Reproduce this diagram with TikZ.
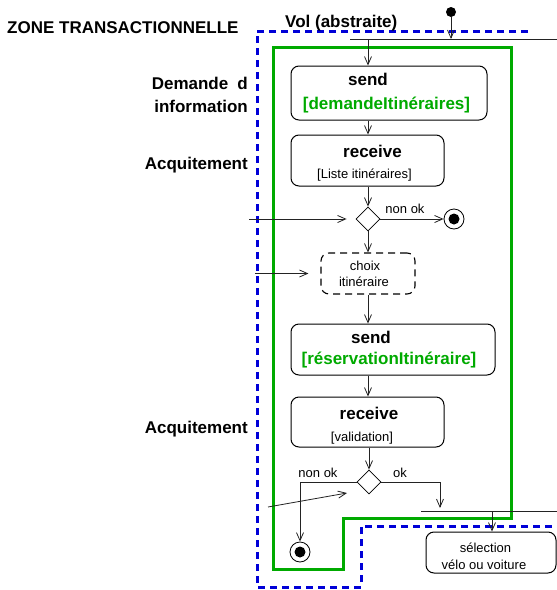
\documentclass[tikz,border=0pt]{standalone}
\usepackage{fontspec}
\setmainfont{Liberation Sans}
\usetikzlibrary{arrows.meta,shapes.geometric}
\definecolor{umlgreen}{RGB}{0,170,0}
\definecolor{umlblue}{RGB}{0,0,215}
\definecolor{ink}{RGB}{35,35,35}
\tikzset{
  big/.style={font=\fontsize{17}{20}\selectfont\bfseries, inner sep=0pt},
  small/.style={font=\fontsize{13}{15}\selectfont, inner sep=0pt},
  greentxt/.style={font=\fontsize{17}{20}\selectfont\bfseries, inner sep=0pt, text=umlgreen},
  actbox/.style={draw=black, line width=1pt, rounded corners=8pt, inner sep=0pt},
  choicebox/.style={draw=black, line width=1.1pt, rounded corners=8pt, dash pattern=on 7pt off 5pt, inner sep=0pt},
  decision/.style={diamond, draw=black, line width=0.8pt, inner sep=0pt, minimum width=24pt, minimum height=24pt, aspect=1},
  finalnode/.style={circle, draw=black, line width=0.8pt, minimum size=20pt, inner sep=0pt},
  startnode/.style={circle, fill=black, minimum size=10pt, inner sep=0pt},
  arr/.style={draw=ink, line width=0.8pt, -{Straight Barb[length=8pt,width=7pt]}},
  bar/.style={draw=ink, line width=0.8pt},
  swim/.style={draw=umlblue, line width=3pt, dash pattern=on 7pt off 5pt},
  part/.style={draw=umlgreen, line width=3pt},
}
\begin{document}
\begin{tikzpicture}[x=1pt,y=-1pt]
\useasboundingbox (0,0) rectangle (557,590);

% partitions
\draw[part] (273,47) -- (511,47) -- (511,518) -- (343,518) -- (343,569) -- (273,569) -- cycle;
\draw[swim] (528,31) -- (257,31) -- (257,587) -- (361,587) -- (361,526) -- (557,526);

% labels
\node[big, anchor=base west] (zone) at (7,33) {ZONE TRANSACTIONNELLE};
\node[big, anchor=base west] (vol) at (285,27) {Vol (abstraite)};
\node[big, anchor=base east] (dem1) at (248,89) {\makebox[96pt]{Demande\hfill d}};
\node[big, anchor=base east] (dem2) at (248,112) {information};
\node[big, anchor=base east] (acq1) at (248,169) {Acquitement};
\node[big, anchor=base east] (acq2) at (248,433) {Acquitement};

% activity nodes
\node[startnode] (start) at (451,12) {};
\coordinate (b1l) at (350,39);
\coordinate (b1r) at (557,39);
\draw[bar] (b1l) -- (b1r);

\node[actbox, minimum width=196pt, minimum height=54pt] (s1) at (389,93) {};
\node[big, anchor=base] (s1a) at (368,85) {send};
\node[greentxt, anchor=base] (s1b) at (386.5,109) {[demandeItinéraires]};

\node[actbox, minimum width=153pt, minimum height=51pt] (r1) at (367.5,160.5) {};
\node[big, anchor=base] (r1a) at (372.5,157) {receive};
\node[small, anchor=base] (r1b) at (364.5,178) {[Liste itinéraires]};

\node[decision] (d1) at (368,219) {};
\node[finalnode] (f1) at (454,219) {};
\fill (f1) circle (5.5pt);
\node[small, anchor=base] (nok1) at (405,213) {non ok};

\node[choicebox, minimum width=94pt, minimum height=41pt] (c1) at (368,273.5) {};
\node[small, anchor=base] (c1a) at (365,270) {choix};
\node[small, anchor=base] (c1b) at (364,286) {itinéraire};

\node[actbox, minimum width=204pt, minimum height=51pt] (s2) at (393,349.5) {};
\node[big, anchor=base] (s2a) at (371,343) {send};
\node[greentxt, anchor=base] (s2b) at (389,364) {[réservationItinéraire]};

\node[actbox, minimum width=153pt, minimum height=50pt] (r2) at (367.5,422) {};
\node[big, anchor=base] (r2a) at (369,419) {receive};
\node[small, anchor=base] (r2b) at (362,441) {[validation]};

\node[decision] (d2) at (369,482) {};
\node[small, anchor=base] (nok2) at (318,477) {non ok};
\node[small, anchor=base] (ok2) at (400,477) {ok};
\node[finalnode] (f2) at (300,552) {};
\fill (f2) circle (5.5pt);

\coordinate (b2l) at (421,511);
\coordinate (b2r) at (557,511);
\coordinate (b2ok) at (440,511);
\draw[bar] (b2l) -- (b2r);

\node[actbox, minimum width=130pt, minimum height=41pt] (sel) at (491,552.5) {};
\node[small, anchor=base] (sela) at (485.5,552) {sélection};
\node[small, anchor=base] (selb) at (484,569) {vélo ou voiture};

% incoming free ends
\coordinate (in1) at (249,219);
\coordinate (in2) at (255,273.5);
\coordinate (in3) at (268,507);
\coordinate (in3t) at (347,493);
\coordinate (j1) at (368,39);
\coordinate (j2) at (492,511);

% connectors
\draw[arr] (start) -- (start |- b1l);
\draw[arr] (j1) -- (j1 |- s1.north);
\draw[arr] (j1 |- s1.south) -- (j1 |- r1.north);
\draw[arr] (d1 |- r1.south) -- (d1.north);
\draw[arr] (in1) -- ([xshift=-9pt]d1.west);
\draw[arr] (d1.east) -- (f1.west);
\draw[arr] (d1.south) -- (d1 |- c1.north);
\draw[arr] (in2) -- ([xshift=-12pt]c1.west);
\draw[arr] (d1 |- c1.south) -- (d1 |- s2.north);
\draw[arr] (d1 |- s2.south) -- (d1 |- r2.north);
\draw[arr] (d2 |- r2.south) -- (d2.north);
\draw[arr] (in3) -- (in3t);
\draw[arr] (d2.west) -| (f2.north);
\draw[arr] (d2.east) -| ([yshift=3pt]b2ok);
\draw[arr] (j2) -- (j2 |- sel.north);
\end{tikzpicture}
\end{document}
